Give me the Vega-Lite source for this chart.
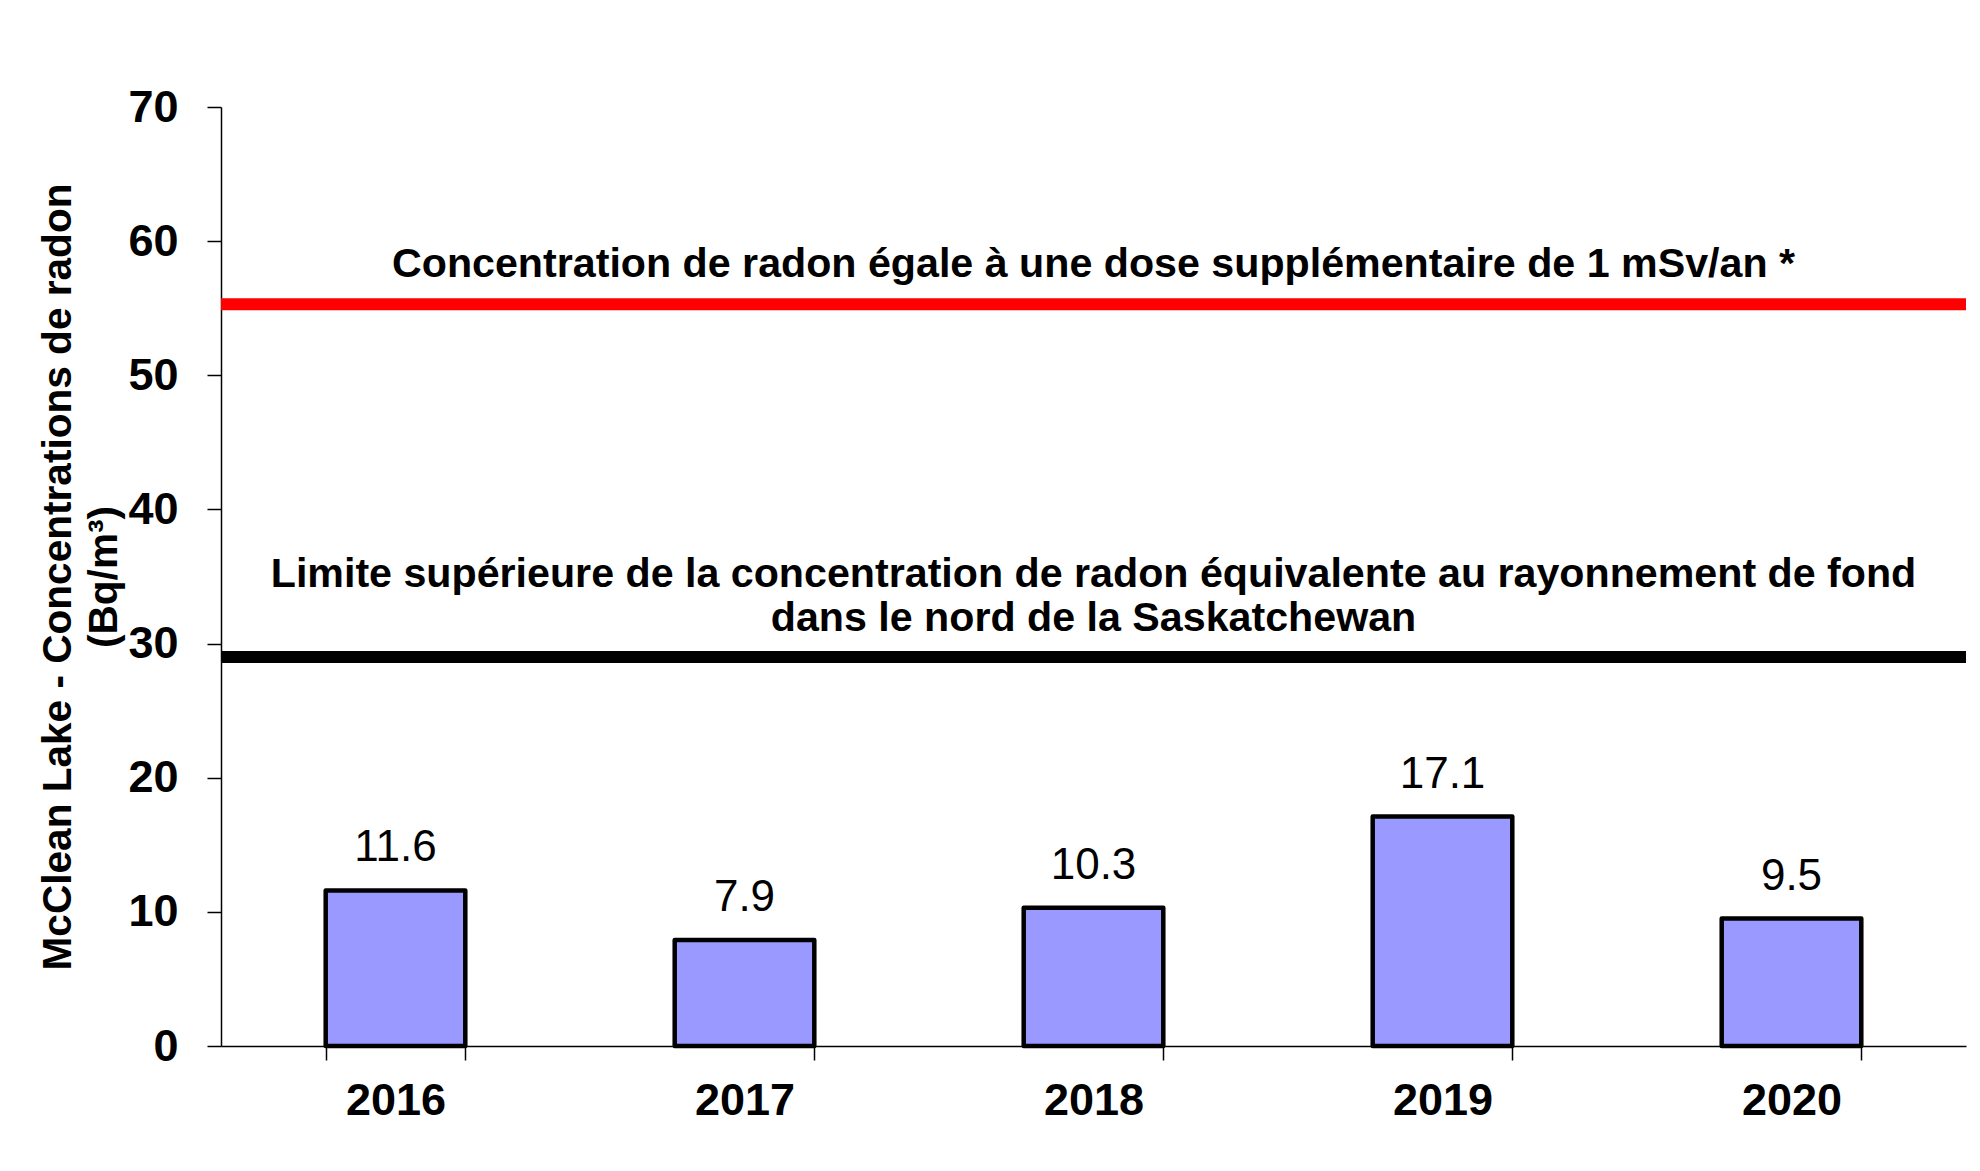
{
  "$schema": "https://vega.github.io/schema/vega-lite/v6.json",
  "width": 1745,
  "height": 939,
  "autosize": {"type": "none"},
  "padding": {"left": 221, "top": 107, "right": 14, "bottom": 125},
  "background": "white",
  "config": {
    "view": {"stroke": null},
    "font": "Liberation Sans",
    "axis": {"grid": false, "domainColor": "black", "tickColor": "black", "labelColor": "black", "titleColor": "black", "labelFont": "Liberation Sans", "titleFont": "Liberation Sans"}
  },
  "layer": [
    {
      "data": {"values": [
        {"year": "2016", "value": 11.6},
        {"year": "2017", "value": 7.9},
        {"year": "2018", "value": 10.3},
        {"year": "2019", "value": 17.1},
        {"year": "2020", "value": 9.5}
      ]},
      "layer": [
        {
          "mark": {"type": "bar", "fill": "#9999FF", "stroke": "black", "strokeWidth": 4.5, "strokeJoin": "round"},
          "encoding": {
            "x": {
              "field": "year", "type": "nominal",
              "scale": {"paddingInner": 0.6, "paddingOuter": 0.3},
              "axis": {"title": null, "labelAngle": 0, "labelFontSize": 45, "labelFontWeight": "bold", "tickSize": 14, "tickBand": "extent", "labelPadding": 18, "domainWidth": 1.5, "tickWidth": 1.5}
            },
            "y": {
              "field": "value", "type": "quantitative",
              "scale": {"domain": [0, 70], "nice": false},
              "axis": {
                "values": [0, 10, 20, 30, 40, 50, 60, 70],
                "title": ["McClean Lake - Concentrations de radon", "(Bq/m³)"],
                "titleFontSize": 40.6, "titleFontWeight": "bold", "titleLineHeight": 46, "titlePadding": 2,
                "labelFontSize": 45, "labelFontWeight": "bold", "labelPadding": 29, "tickSize": 14,
                "domainWidth": 1.5, "tickWidth": 1.5
              }
            }
          }
        },
        {
          "mark": {"type": "text", "fontSize": 44, "baseline": "alphabetic", "dy": -29, "color": "black"},
          "encoding": {
            "x": {"field": "year", "type": "nominal"},
            "y": {"field": "value", "type": "quantitative"},
            "text": {"field": "value", "type": "quantitative", "format": ".1f"}
          }
        }
      ]
    },
    {
      "data": {"values": [
        {"level": 55.3, "c": "#FF0000"},
        {"level": 29, "c": "#000000"}
      ]},
      "mark": {"type": "rule", "strokeWidth": 12},
      "encoding": {
        "y": {"field": "level", "type": "quantitative"},
        "color": {"field": "c", "type": "nominal", "scale": null}
      }
    },
    {
      "data": {"values": [
        {"year": "2018", "pos": 57.3, "label": "Concentration de radon égale à une dose supplémentaire de 1 mSv/an *"},
        {"year": "2018", "pos": 34.2, "label": "Limite supérieure de la concentration de radon équivalente au rayonnement de fond\ndans le nord de la Saskatchewan"}
      ]},
      "mark": {"type": "text", "fontSize": 41.2, "fontWeight": "bold", "baseline": "alphabetic", "lineBreak": "\n", "lineHeight": 44, "color": "black"},
      "encoding": {
        "x": {"field": "year", "type": "nominal"},
        "y": {"field": "pos", "type": "quantitative"},
        "text": {"field": "label"}
      }
    }
  ]
}
